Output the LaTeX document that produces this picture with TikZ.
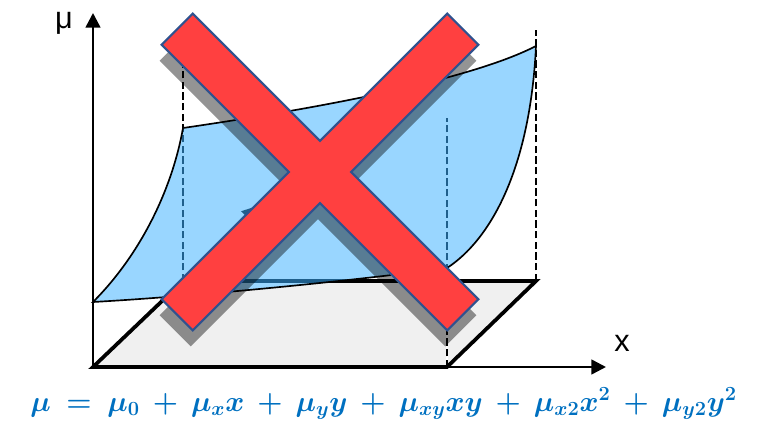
\documentclass[tikz,border=0pt]{standalone}
\usepackage{graphicx}
\usepackage[no-math]{fontspec}
\newfontfamily\labelfont{Liberation Sans}
\usetikzlibrary{arrows.meta}
\definecolor{surfblue}{RGB}{153,214,255}
\definecolor{hiddenblue}{RGB}{31,95,140}
\definecolor{floorgray}{RGB}{240,240,240}
\definecolor{xred}{RGB}{255,64,64}
\definecolor{xborder}{RGB}{47,82,143}
\definecolor{formulablue}{RGB}{0,112,192}
\newsavebox\formulabox
\begin{document}
\sbox\formulabox{\resizebox{530pt}{!}{\color{formulablue}\fontsize{22}{24}\selectfont\mathversion{bold}\medmuskip=7mu\thickmuskip=8.5mu$\mu = \mu_0 + \mu_x x + \mu_y y + \mu_{xy} xy + \mu_{x2} x^2 + \mu_{y2} y^2$}}%
\begin{tikzpicture}[x=0.75pt,y=-0.75pt,
  axis/.style={line width=1.9pt,-{Triangle[length=11pt,width=11pt]}},
  yaxis/.style={line width=1.9pt,-{Triangle[length=9pt,width=9pt]}},
  flooredge/.style={line width=2.8pt,line join=miter},
  vdash/.style={line width=1.7pt,dash pattern=on 5.5pt off 2.5pt},
  surfline/.style={line width=1.25pt},
  lbl/.style={anchor=base,inner sep=0pt,font=\labelfont\fontsize{23}{23}\selectfont}]
\useasboundingbox (0,0) rectangle (761,421);
% coordinates
\coordinate (O) at (93,367);
\coordinate (FR) at (447,367);
\coordinate (BR) at (536,281);
\coordinate (BL) at (183,281);
\coordinate (FRmid) at (447,281);
\coordinate (Mtop) at (93,13);
\coordinate (Xtip) at (606,367);
\coordinate (Ytip) at (254,207);
\coordinate (A) at (93,302);
\coordinate (B) at (183,128);
\coordinate (C) at (536,46);
\coordinate (D) at (447,268);
\coordinate (BLtop) at (183,30);
\coordinate (FRtop) at (447,118);
\coordinate (BRtop) at (536,30);
% floor
\fill[floorgray] (O) -- (FR) -- (BR) -- (BL) -- cycle;
\draw[axis] (O) -- (Mtop);
\draw[axis] (O) -- (Xtip);
\draw[flooredge] (O) -- (FR) -- (BR) -- (BL) -- cycle;
% dashed verticals
\draw[white,line width=1.7pt] (FR) -- (FRmid);
\draw[vdash] (FR) -- (FRtop);
\draw[vdash] (BL) -- (BLtop);
\draw[vdash] (BR) -- (BRtop);
\draw[yaxis] (BL) -- (Ytip);
% surface
\fill[surfblue] (A) .. controls (140,255) and (172,190) .. (B)
  .. controls (320,108) and (470,80) .. (C)
  .. controls (530,170) and (490,240) .. (D)
  .. controls (360,280) and (200,296) .. (A) -- cycle;
\begin{scope}
\clip (A) .. controls (140,255) and (172,190) .. (B)
  .. controls (320,108) and (470,80) .. (C)
  .. controls (530,170) and (490,240) .. (D)
  .. controls (360,280) and (200,296) .. (A) -- cycle;
\draw[hiddenblue,vdash] (BL) -- (BLtop);
\draw[hiddenblue,vdash] (FR) -- (FRtop);
\draw[hiddenblue,flooredge] (BL) -- (BR);
\draw[hiddenblue,flooredge] (O) -- (BL);
\draw[hiddenblue,yaxis] (BL) -- (Ytip);
\end{scope}
\draw[surfline] (A) .. controls (140,255) and (172,190) .. (B)
  .. controls (320,108) and (470,80) .. (C)
  .. controls (530,170) and (490,240) .. (D)
  .. controls (360,280) and (200,296) .. (A) -- cycle;
% cross shadow
\begin{scope}[shift={(318,188)},rotate=45]
\fill[black,opacity=0.42] (202,22) -- (22,22) -- (22,202) -- (-22,202) -- (-22,22) -- (-202,22)
  -- (-202,-22) -- (-22,-22) -- (-22,-202) -- (22,-202) -- (22,-22) -- (202,-22) -- cycle;
\end{scope}
% cross
\begin{scope}[shift={(320,172)},rotate=45]
\draw[xborder,fill=xred,line width=1.6pt,line join=miter] (202,22) -- (22,22) -- (22,202) -- (-22,202) -- (-22,22) -- (-202,22)
  -- (-202,-22) -- (-22,-22) -- (-22,-202) -- (22,-202) -- (22,-22) -- (202,-22) -- cycle;
\end{scope}
% labels
\node[lbl] (mulabel) at (64,28) {μ};
\node[lbl] (xlabel) at (622,351) {x};
\node[anchor=base west,inner sep=0pt] (eqn) at (30,411) {\usebox\formulabox};
\end{tikzpicture}
\end{document}
